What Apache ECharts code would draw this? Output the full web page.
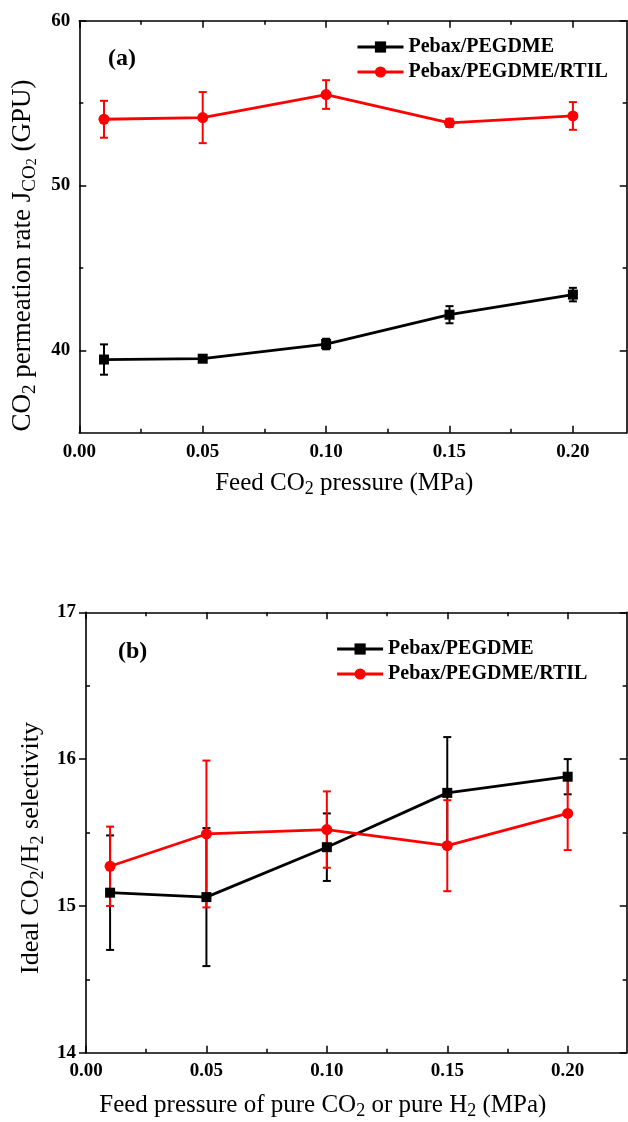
<!DOCTYPE html>
<html><head><meta charset="utf-8">
<script src="https://cdn.jsdelivr.net/npm/echarts@6/dist/echarts.min.js"></script>
<style>html,body{margin:0;padding:0;background:#fff}#c{width:628px;height:1122px}</style>
</head><body><div id="c"></div>
<script>
// ---------- data ----------
const pressures = [0.01, 0.05, 0.10, 0.15, 0.20];
const seriesNames = ['Pebax/PEGDME', 'Pebax/PEGDME/RTIL'];
const permPebax = [39.44, 39.49, 40.38, 42.16, 43.38];
const permPebaxErr = [0.92, 0.12, 0.32, 0.52, 0.41];
const permRtil = [54.02, 54.12, 55.52, 53.80, 54.22];
const permRtilErr = [1.12, 1.55, 0.87, 0.25, 0.84];
const selPebax = [15.09, 15.06, 15.40, 15.77, 15.88];
const selPebaxErr = [0.39, 0.47, 0.23, 0.38, 0.12];
const selRtil = [15.27, 15.49, 15.52, 15.41, 15.63];
const selRtilErr = [0.27, 0.50, 0.26, 0.31, 0.25];
const xMajorTicks = [0, 0.05, 0.10, 0.15, 0.20];
const xMinorTicks = [0.025, 0.075, 0.125, 0.175];
const permMajorTicks = [40, 50, 60];
const permMinorTicks = [45, 55];
const selMajorTicks = [14, 15, 16, 17];
const selMinorTicks = [14.5, 15.5, 16.5];

// ---------- style ----------
const SERIF = "'Times New Roman', 'Liberation Serif', serif";
const RED = '#ff0000', BLACK = '#000000';

function axis(dim, gi, pos, min, max, ticks, isMajor, showLine, showLabel, inside, fmt, margin) {
  return {
    type: 'value', gridIndex: gi, position: pos, min: min, max: max,
    axisLine: { show: showLine, onZero: false, lineStyle: { color: BLACK, width: 1.6 } },
    axisTick: { show: true, inside: inside, length: isMajor ? 7 : 4, customValues: ticks,
                lineStyle: { color: BLACK, width: 1.5 } },
    axisLabel: { show: showLabel, customValues: ticks, formatter: fmt, margin: margin || 8,
                 color: BLACK, fontFamily: SERIF, fontWeight: 'bold', fontSize: 19 },
    splitLine: { show: false }, minorTick: { show: false }
  };
}
const fx = v => v.toFixed(2);
const fy = v => String(Math.round(v));

const xAxes = [
  axis('x', 0, 'bottom', 0, 0.2218, xMajorTicks, true, true, true, true, fx, 10),
  axis('x', 0, 'bottom', 0, 0.2218, xMinorTicks, false, false, false, true),
  axis('x', 0, 'top', 0, 0.2218, xMajorTicks, true, true, false, true),
  axis('x', 0, 'top', 0, 0.2218, xMinorTicks, false, false, false, true),
  axis('x', 1, 'bottom', 0, 0.2245, xMajorTicks, true, true, true, true, fx, 9),
  axis('x', 1, 'bottom', 0, 0.2245, xMinorTicks, false, false, false, true),
  axis('x', 1, 'top', 0, 0.2245, xMajorTicks, true, true, false, true),
  axis('x', 1, 'top', 0, 0.2245, xMinorTicks, false, false, false, true)
];
const yAxes = [
  axis('y', 0, 'left', 35, 60, permMajorTicks, true, true, true, true, fy, 9),
  axis('y', 0, 'left', 35, 60, permMinorTicks, false, false, false, true),
  axis('y', 0, 'right', 35, 60, permMajorTicks, true, true, false, true),
  axis('y', 0, 'right', 35, 60, permMinorTicks, false, false, false, true),
  axis('y', 1, 'left', 14, 17, selMajorTicks, true, true, true, false, fy, 10),
  axis('y', 1, 'left', 14, 17, selMinorTicks, false, false, false, true),
  axis('y', 1, 'right', 14, 17, selMajorTicks, true, true, false, true),
  axis('y', 1, 'right', 14, 17, selMinorTicks, false, false, false, true)
];

function lineSeries(name, xi, yi, vals, color, symbol, size) {
  return {
    name: name, type: 'line', xAxisIndex: xi, yAxisIndex: yi,
    data: pressures.map((p, i) => [p, vals[i]]),
    symbol: symbol, symbolSize: size, showSymbol: true,
    lineStyle: { color: color, width: 2.8 }, itemStyle: { color: color },
    z: 3, animation: false
  };
}
function errSeries(name, xi, yi, vals, errs, color) {
  return {
    name: name + ' err', type: 'custom', xAxisIndex: xi, yAxisIndex: yi,
    data: pressures.map((p, i) => [p, vals[i] - errs[i], vals[i] + errs[i]]),
    encode: { x: 0, y: [1, 2] }, silent: true, z: 2, animation: false,
    renderItem: function (params, api) {
      const x = api.value(0);
      const lo = api.coord([x, api.value(1)]);
      const hi = api.coord([x, api.value(2)]);
      const w = 4;
      const st = { stroke: color, lineWidth: 2 };
      return { type: 'group', children: [
        { type: 'line', shape: { x1: lo[0], y1: lo[1], x2: hi[0], y2: hi[1] }, style: st },
        { type: 'line', shape: { x1: lo[0] - w, y1: lo[1], x2: lo[0] + w, y2: lo[1] }, style: st },
        { type: 'line', shape: { x1: hi[0] - w, y1: hi[1], x2: hi[0] + w, y2: hi[1] }, style: st }
      ]};
    }
  };
}

function legend(left, top) {
  return {
    data: seriesNames, orient: 'vertical', left: left, top: top, padding: 0,
    itemWidth: 46, itemHeight: 14, itemGap: 5,
    lineStyle: { width: 3 },
    textStyle: { color: BLACK, fontFamily: SERIF, fontWeight: 'bold', fontSize: 20 },
    selectedMode: false
  };
}

const subRich = (size) => ({
  n: { fontFamily: SERIF, fontSize: size, lineHeight: size + 6, color: BLACK },
  s: { fontFamily: SERIF, fontSize: Math.round(size * 0.7), lineHeight: Math.round(size * 0.7), verticalAlign: 'bottom', color: BLACK },
  ss: { fontFamily: SERIF, fontSize: Math.round(size * 0.5), lineHeight: Math.round(size * 0.45), verticalAlign: 'bottom', color: BLACK }
});
function titleText(x, y, rot, text, size) {
  return { type: 'text', x: x, y: y, rotation: rot,
    style: { text: text, rich: subRich(size), align: 'center', verticalAlign: 'middle',
             fontFamily: SERIF, fontSize: size, fill: BLACK } };
}

const option = {
  backgroundColor: '#ffffff',
  animation: false,
  grid: [
    { left: 79.3, top: 20.7, width: 547.4, height: 412 },
    { left: 86, top: 612.3, width: 540.7, height: 440.4 }
  ],
  xAxis: xAxes,
  yAxis: yAxes,
  legend: [legend(356, 37), legend(335.6, 639)],
  series: [
    errSeries(seriesNames[0], 0, 0, permPebax, permPebaxErr, BLACK),
    errSeries(seriesNames[1], 0, 0, permRtil, permRtilErr, RED),
    lineSeries(seriesNames[0], 0, 0, permPebax, BLACK, 'rect', 10),
    lineSeries(seriesNames[1], 0, 0, permRtil, RED, 'circle', 11),
    errSeries(seriesNames[0], 4, 4, selPebax, selPebaxErr, BLACK),
    errSeries(seriesNames[1], 4, 4, selRtil, selRtilErr, RED),
    lineSeries(seriesNames[0], 4, 4, selPebax, BLACK, 'rect', 10),
    lineSeries(seriesNames[1], 4, 4, selRtil, RED, 'circle', 11)
  ],
  graphic: [
    { type: 'text', x: 108, y: 58.3, style: { text: '(a)', fontFamily: SERIF, fontWeight: 'bold', fontSize: 24, fill: BLACK, align: 'left', verticalAlign: 'middle' } },
    { type: 'text', x: 118, y: 651.7, style: { text: '(b)', fontFamily: SERIF, fontWeight: 'bold', fontSize: 24, fill: BLACK, align: 'left', verticalAlign: 'middle' } },
    titleText(23, 255.5, Math.PI / 2, '{n|CO}{s|2}{n| permeation rate J}{s|CO}{ss|2}{n| (GPU)}', 27),
    titleText(344.3, 483, 0, '{n|Feed CO}{s|2}{n| pressure (MPa)}', 25),
    titleText(31, 848, Math.PI / 2, '{n|Ideal CO}{s|2}{n|/H}{s|2}{n| selectivity}', 26),
    titleText(322.8, 1105, 0, '{n|Feed pressure of pure CO}{s|2}{n| or pure H}{s|2}{n| (MPa)}', 25)
  ]
};
const chart = echarts.init(document.getElementById('c'), null, { renderer: 'canvas' });
chart.setOption(option);
</script>
</body></html>
